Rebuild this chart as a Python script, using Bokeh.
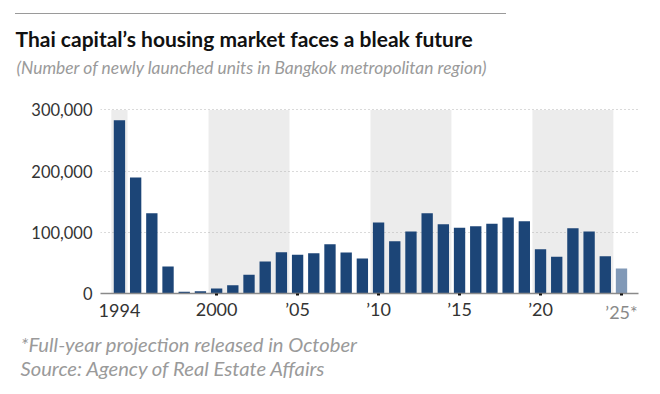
from bokeh.plotting import figure
from bokeh.layouts import column
from bokeh.models import (ColumnDataSource, FixedTicker, NumeralTickFormatter,
                          LinearAxis, Title, Div)
from bokeh.embed import file_html
from bokeh.resources import INLINE

# ---- data ----
years = list(range(1994, 2026))
units = [283000, 189500, 131000, 44000, 2700, 3800, 8200, 13600, 30500, 52300,
         67500, 63200, 65900, 80600, 67000, 57200, 116000, 85500, 101300, 131200,
         113300, 107300, 110000, 113800, 124100, 118200, 72400, 59900, 106700,
         101300, 61000, 40800]
projected = [False] * 31 + [True]

band_start = [1994, 2000, 2010, 2020]
band_end = [1994, 2004, 2014, 2024]

y_ticks = [0, 100000, 200000, 300000]
x_tick_years = [2000, 2005, 2010, 2015, 2020, 2025]
x_labels = {2000: "2000", 2005: "\u201905", 2010: "\u201910", 2015: "\u201915",
            2020: "\u201920", 2025: ""}
first_label = {1994: "1994"}
last_label = {2025: "\u201925*"}

TITLE = "Thai capital\u2019s housing market faces a bleak future"
SUBTITLE = "(Number of newly launched units in Bangkok metropolitan region)"
NOTES = "*Full-year projection released in October\nSource: Agency of Real Estate Affairs"

BAR = "#1c4577"
PROJ = "#8199b7"
FONT = "Lato"
W = 652

colors = [PROJ if pr else BAR for pr in projected]
src = ColumnDataSource(dict(x=years, top=units, color=colors))

# ---- thin rule on top ----
rule = Div(width=W, height=20, margin=0,
           text='<div style="position:absolute;left:15px;top:12.5px;width:491px;'
                'height:0;border-top:1.5px solid #9a9a9a;"></div>')

# ---- main chart ----
p = figure(width=W, height=366, output_backend="svg", toolbar_location=None,
           x_range=(1992.83, 2026.05), y_range=(0, 344800),
           min_border_left=100, min_border_right=14, min_border_top=62,
           min_border_bottom=93)
p.outline_line_color = None

bsrc = ColumnDataSource(dict(left=[s - 0.5 for s in band_start],
                             right=[e + 0.5 for e in band_end],
                             bottom=[0] * len(band_start),
                             top=[300000] * len(band_start)))
p.quad(left="left", right="right", bottom="bottom", top="top", source=bsrc,
       fill_color="#ececec", line_color=None, level="image")

p.vbar(x="x", top="top", width=0.7, source=src, fill_color="color",
       line_color=None)

p.yaxis.ticker = FixedTicker(ticks=y_ticks, minor_ticks=[])
p.yaxis.formatter = NumeralTickFormatter(format="0,0")
p.yaxis.axis_line_color = None
p.yaxis.major_tick_line_color = None
p.yaxis.major_tick_out = 0
p.yaxis.major_label_standoff = 8
p.yaxis.major_label_text_font = FONT
p.yaxis.major_label_text_font_size = "16.5px"
p.yaxis.major_label_text_color = "#333333"

xa = p.xaxis[0]
xa.ticker = FixedTicker(ticks=x_tick_years, minor_ticks=[])
xa.major_label_overrides = x_labels
xa.axis_line_color = "#8a8a8a"
xa.axis_line_width = 1.5
xa.major_tick_line_color = "#111111"
xa.major_tick_line_width = 3
xa.major_tick_in = 0
xa.major_tick_out = 2
xa.major_label_standoff = 2
xa.major_label_text_font = FONT
xa.major_label_text_font_size = "18px"
xa.major_label_text_color = "#333333"

def extra_axis(ticks_labels, color, standoff):
    return LinearAxis(ticker=FixedTicker(ticks=list(ticks_labels), minor_ticks=[]),
                      major_label_overrides=ticks_labels,
                      axis_line_color=None, major_tick_line_color=None,
                      major_tick_in=0, major_tick_out=0,
                      major_label_standoff=standoff,
                      major_label_text_font=FONT, major_label_text_font_size="18px",
                      major_label_text_color=color)

p.add_layout(extra_axis(first_label, "#333333", -19), "below")
p.add_layout(extra_axis(last_label, "#8a8a8a", -22), "below")

p.xgrid.grid_line_color = None
p.ygrid.ticker = FixedTicker(ticks=y_ticks[1:], minor_ticks=[])
p.ygrid.grid_line_color = "#b5b5b5"
p.ygrid.grid_line_dash = "1 3"

p.add_layout(Title(text=SUBTITLE, align="left", offset=-84, text_font=FONT,
                   text_font_style="italic", text_font_size="17.4px",
                   text_color="#9a9a9a", standoff=9), "above")
p.add_layout(Title(text=TITLE, align="left", offset=-85, text_font=FONT,
                   text_font_style="bold", text_font_size="21px",
                   text_color="#111111", standoff=0), "above")
p.add_layout(Title(text=NOTES, align="left", offset=-80, text_font=FONT,
                   text_font_style="italic", text_font_size="20.2px",
                   text_line_height=1.0,
                   text_color="#9a9a9a", standoff=8), "below")

open("out.html", "w").write(file_html(column(rule, p, spacing=0), INLINE))
